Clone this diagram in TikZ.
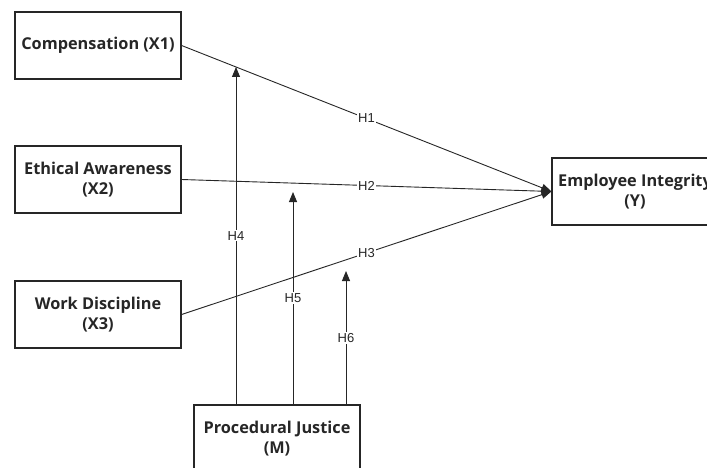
\documentclass[tikz,border=0pt]{standalone}
\usepackage{fontspec}
\setmainfont{Open Sans}
\newfontfamily\labelfont{Liberation Sans}
\usetikzlibrary{arrows.meta}
\definecolor{ln}{HTML}{262626}
\begin{document}
\begin{tikzpicture}[x=1pt,y=-1pt,
  varbox/.style={draw=ln, line width=1.2pt, minimum width=166pt, minimum height=67pt, align=center, inner sep=0pt, font=\fontsize{16.3}{20}\selectfont\bfseries, text=ln},
  path/.style={draw=ln, line width=0.9pt},
  arr/.style={path, -{Triangle[length=10pt,width=8pt]}},
  hlab/.style={fill=white, inner sep=1.2pt, font=\labelfont\fontsize{13}{14}\selectfont, text=ln}]
\useasboundingbox (0,0) rectangle (707,468);
\clip (0,0) rectangle (707,468);
\fill[white] (0,0) rectangle (707,468);
\node[varbox] (x1) at (98,45.5) {Compensation (X1)};
\node[varbox] (x2) at (98,179.5) {Ethical Awareness\\(X2)};
\node[varbox] (x3) at (98,314.5) {Work Discipline\\(X3)};
\node[varbox] (y) at (635,191.5) {Employee Integrity\\(Y)};
\node[varbox] (m) at (277,438.5) {Procedural Justice\\(M)};
\coordinate (t4) at (236,67);
\coordinate (t5) at (293,192);
\coordinate (t6) at (346,271);
\draw[arr] (x1.east) -- node[hlab] {H1} (y.west);
\draw[arr] (x2.east) -- node[hlab] {H2} (y.west);
\draw[arr] (x3.east) -- node[hlab] {H3} (y.west);
\draw[arr] (m.north -| t4) -- node[hlab] {H4} (t4);
\draw[arr] (m.north -| t5) -- node[hlab] {H5} (t5);
\draw[arr] (m.north -| t6) -- node[hlab] {H6} (t6);
\end{tikzpicture}
\end{document}
